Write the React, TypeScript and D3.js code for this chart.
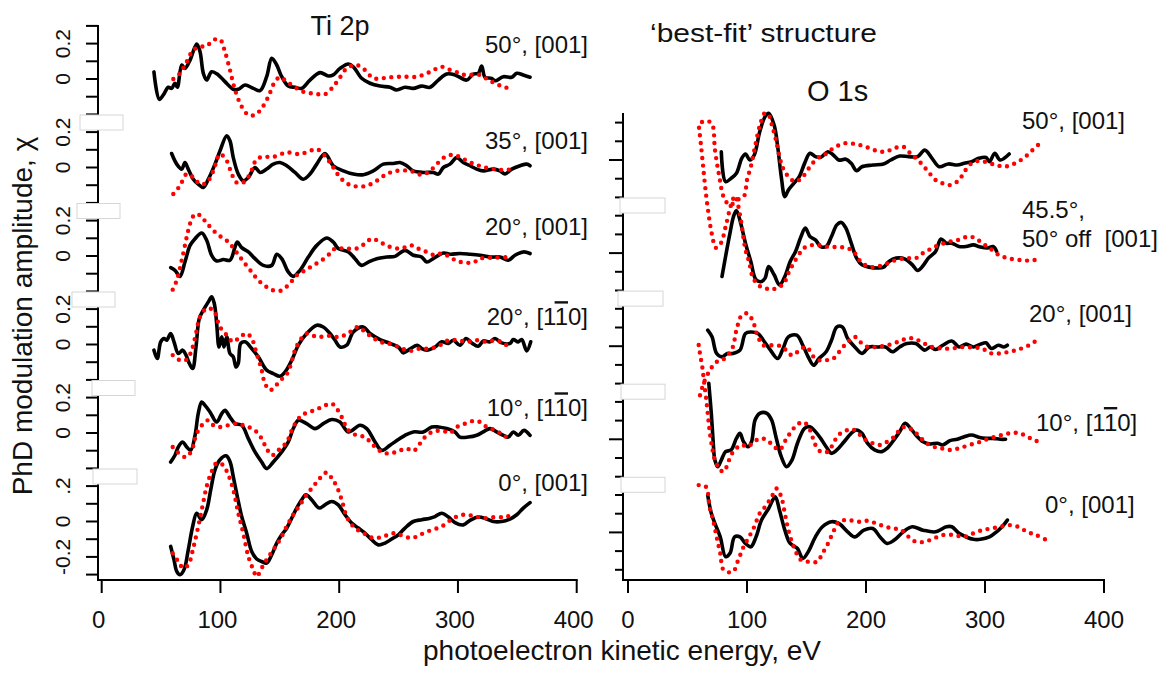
import React from 'react';
import * as d3 from 'd3';

type Pt = [number, number];

// ---------- Ti 2p (left) : experiment (black) and theory (red) ----------
const tiExp50: Pt[] = [[44,0.04],[48.5,-0.115],[51.9,-0.09],[56.1,-0.047],[58.9,-0.053],[61.7,-0.024],[63.7,-0.047],[67.4,0.079],[70.1,0.06],[74.4,0.107],[80,0.198],[82.8,0.154],[85.6,0.032],[88.4,-0.006],[92.6,0.041],[98.2,0.023],[103.8,-0.015],[110.8,-0.058],[115,-0.058],[120.7,-0.034],[127.7,-0.053],[133.3,-0.066],[138.9,0.013],[143.2,0.117],[147.4,0.079],[151.6,0.013],[157.1,-0.04],[162.8,-0.047],[168.4,-0.053],[175.4,-0.006],[183.8,0.036],[190.8,0.017],[195,0.023],[200.7,0.06],[207.7,0.085],[211.9,0.069],[218.9,0.004],[225.9,-0.024],[234.4,-0.04],[242.8,-0.047],[248.4,-0.062],[255.4,-0.047],[262.4,-0.053],[269.5,-0.04],[276.5,-0.047],[283.5,-0.006],[290.5,0.028],[297.5,0.023],[307.4,-0.006],[312.9,0.028],[317.1,0.032],[320,0.073],[322.8,0.01],[328.4,0.004],[331.2,-0.01],[338.2,0.013],[345.3,0.01],[349.5,0.032],[355,0.023],[360.7,0.01]];
const tiTh50: Pt[] = [[60.3,0],[65.9,0.032],[71.6,0.098],[77.1,0.164],[82.8,0.182],[88.4,0.186],[94,0.22],[99.6,0.224],[103.8,0.154],[108,0.051],[112.3,-0.062],[117.9,-0.156],[123.5,-0.203],[129.1,-0.203],[134.7,-0.166],[140.3,-0.1],[145.9,-0.015],[150.1,0.01],[155.8,-0.015],[162.8,-0.047],[169.8,-0.072],[176.8,-0.081],[182.4,-0.086],[188,-0.086],[193.7,-0.053],[199.2,-0.006],[206.3,0.06],[214.7,0.079],[221.7,0.051],[228.7,0.004],[235.8,0.004],[242.8,0.01],[254,0.013],[265.3,0.013],[273.7,0.032],[280.7,0.055],[286.3,0.069],[293.3,0.051],[300.3,0.036],[305.9,0.023],[318.6,0.023],[325.6,-0.006],[331.2,-0.024],[338.2,-0.044],[343.8,-0.053]];

const tiExp35: Pt[] = [[58.9,0.079],[63.2,0.019],[67.4,-0.009],[70.1,0.028],[72.9,-0.009],[77.1,-0.066],[81.3,-0.094],[85.6,-0.113],[89.8,-0.066],[95.4,0.019],[99.6,0.094],[105.3,0.179],[108,0.151],[110.8,0.056],[115,-0.037],[119.2,-0.075],[123.5,-0.056],[129.1,0],[133.3,-0.028],[138.9,-0.009],[144.5,0.019],[150.1,0.028],[155.8,0.01],[162.8,-0.028],[169.8,-0.066],[175.4,-0.037],[181.1,0.019],[188,0.079],[195,0.01],[203.5,-0.019],[211.9,-0.037],[220.3,-0.041],[228.7,-0.019],[237.1,0.019],[245.6,0.023],[251.2,0.028],[256.8,0.01],[262.4,-0.019],[270.8,-0.028],[279.2,-0.028],[283.5,-0.037],[287.7,0],[293.3,0.019],[299,0.056],[304.5,0.028],[310.1,0.01],[315.8,-0.009],[321.3,-0.019],[329.8,-0.009],[335.4,-0.019],[339.6,-0.037],[345.3,-0.009],[352.3,0.01],[357.9,0.019],[360.7,0.01]];
const tiTh35: Pt[] = [[60.3,-0.15],[65.9,-0.103],[71.6,-0.037],[77.1,-0.056],[82.8,-0.094],[88.4,-0.085],[94,-0.019],[99.6,0.076],[105.3,0.038],[109.5,-0.037],[113.7,-0.085],[119.2,-0.085],[124.9,-0.037],[130.5,0.047],[136.1,0.06],[144.5,0.06],[155.8,0.085],[167,0.076],[175.4,0.094],[181.1,0.104],[188,0.066],[195,0],[200.7,-0.056],[207.7,-0.094],[214.7,-0.107],[223.2,-0.103],[231.6,-0.075],[240,-0.037],[248.4,-0.019],[259.6,-0.019],[269.5,-0.041],[276.5,-0.019],[282.1,0.019],[289.1,0.06],[296.1,0.072],[303.2,0.053],[308.7,0.034],[315.8,0.015],[322.8,0],[331.2,-0.009],[338.2,-0.015],[345.3,-0.009]];

const tiExp20a: Pt[] = [[58.1,-0.066],[61.7,-0.081],[65.9,-0.115],[70.1,-0.034],[74.4,0.06],[78.6,0.098],[84.2,0.13],[88.4,0.089],[92.6,0.004],[96.8,-0.028],[102.4,-0.02],[108,-0.024],[112.3,0.051],[114.2,0.079],[117.9,0.047],[123.5,0.023],[129.1,-0.015],[136.1,-0.053],[143.2,-0.053],[147.4,0.01],[151.6,-0.015],[157.1,-0.09],[161.3,-0.115],[167,-0.081],[174,-0.006],[181.1,0.06],[189.5,0.102],[195,0.079],[199.2,0.042],[207.7,0.023],[213.3,-0.015],[218.9,-0.053],[224.5,-0.034],[231.6,-0.015],[240,-0.006],[247,-0.002],[255.4,0.032],[262.4,0.004],[269.5,-0.006],[273.7,-0.034],[279.2,-0.015],[287.7,0.017],[293.3,0.01],[301.7,0.014],[310.1,0.01],[318.6,0.004],[327,-0.006],[335.4,-0.006],[342.4,-0.024],[348,0.004],[355,0.023],[360.7,0.014]];
const tiTh20a: Pt[] = [[59.8,-0.19],[63.2,-0.137],[67.4,-0.024],[71.6,0.107],[74.9,0.192],[78.6,0.236],[82.8,0.23],[88.4,0.186],[96.8,0.127],[106.6,0.079],[112.3,0.032],[116.5,-0.006],[120.7,-0.043],[126.3,-0.09],[131.9,-0.137],[138.9,-0.175],[144.5,-0.194],[151.6,-0.194],[158.6,-0.153],[164.2,-0.109],[171.2,-0.081],[178.2,-0.053],[185.3,-0.024],[192.3,0.014],[196.5,0.042],[204.9,0.042],[214.7,0.042],[221.7,0.07],[227.4,0.098],[234.4,0.079],[241.4,0.055],[251.2,0.042],[261.1,0.06],[266.6,0.042],[273.7,0.023],[280.7,0.004],[286.3,0.014],[293.3,-0.006],[299,-0.028],[305.9,-0.037],[312.9,-0.037],[318.6,-0.015],[331.2,-0.009],[343.8,-0.006]];

const tiExp20b: Pt[] = [[44,-0.032],[46.8,-0.079],[49.7,0.015],[52.5,0.034],[54.7,0.024],[58.1,0.062],[60.9,0.015],[64.5,-0.051],[68.2,-0.032],[71,-0.06],[73.8,-0.107],[76.6,-0.136],[79.4,-0.014],[82.2,0.147],[85.6,0.194],[89.8,0.241],[92.6,0.269],[94.8,0.232],[96.8,0.119],[98.8,-0.014],[101.1,0.043],[103,-0.014],[105.3,0.043],[108,-0.051],[110.8,-0.07],[113.1,-0.127],[115,-0.107],[117.1,0.006],[120.7,0.015],[126.3,-0.023],[131.9,-0.07],[138.9,-0.145],[144.5,-0.164],[150.1,-0.179],[154.4,-0.155],[160,-0.089],[165.6,-0.004],[172.6,0.062],[181.1,0.109],[186.6,0.099],[192.3,0.062],[196.5,0.024],[200.7,-0.014],[206.3,-0.004],[211.9,0.071],[220.3,0.099],[225.9,0.062],[234.4,0.028],[242.8,0.006],[249.8,-0.014],[254,-0.047],[258.2,-0.032],[265.8,-0.004],[269.5,-0.023],[273.7,-0.032],[280.7,-0.014],[286.3,0.015],[291.9,0.006],[296.1,0.024],[301.7,-0.004],[306.8,0.034],[311.6,0.009],[317.1,-0.01],[321.3,0.02],[327,0.015],[331.2,0.034],[336.8,0.009],[343.8,0.006],[346.6,0.028],[350.8,0.015],[353.7,0.028],[357.9,-0.036],[361.3,0.015]];
const tiTh20b: Pt[] = [[59.8,-0.06],[65.9,-0.089],[71.6,-0.085],[75.8,-0.032],[79.4,0.062],[82.8,0.156],[88.4,0.203],[94,0.194],[99.6,0.099],[105.3,0.053],[110.8,0.015],[116.5,0.043],[122.1,0.062],[126.3,0.034],[130.5,-0.051],[134.7,-0.145],[137.5,-0.22],[141.7,-0.258],[145.9,-0.24],[150.1,-0.202],[154.4,-0.183],[158.6,-0.127],[162.8,-0.032],[167,0.024],[172.6,0.062],[181.1,0.043],[190.8,0.049],[200.7,0.043],[209.1,0.071],[216.1,0.099],[221.7,0.071],[227.4,0.043],[234.4,0.015],[241.4,0.006],[248.4,-0.01],[259.6,-0.036],[268,-0.023],[276.5,-0.023],[284.9,-0.004],[291.9,0.024],[300.3,0.024],[307.4,0.015],[315.8,0.024],[324.2,0.015],[332.6,0.024],[338.2,0.006],[343.8,-0.014]];

const tiExp10: Pt[] = [[58.1,-0.164],[61.7,-0.126],[64.5,-0.079],[68.2,-0.051],[71.6,-0.079],[74.9,-0.098],[78.6,-0.013],[81.3,0.11],[84.2,0.175],[87,0.156],[91.2,0.119],[96.8,0.062],[101.1,0.11],[103.8,0.128],[108,0.09],[112.3,0.053],[117.9,0.044],[123.5,-0.032],[129.1,-0.107],[134.7,-0.164],[138.9,-0.201],[144.5,-0.164],[151.6,-0.107],[157.1,-0.051],[161.3,0.025],[165.6,0.072],[172.6,0.053],[179.6,0.025],[186.6,0.053],[193.7,0.076],[200.7,0.062],[207.7,0.006],[217.5,0.044],[223.2,0.025],[230.2,-0.051],[235.8,-0.098],[242.8,-0.069],[249.8,-0.037],[255.4,-0.013],[262.4,0.006],[270.8,0.006],[277.9,0.034],[283.5,0.034],[290.5,0.025],[297.5,0.006],[301.7,-0.023],[308.7,-0.023],[315.8,-0.013],[321.3,0.006],[327,0.025],[332.6,0.006],[338.2,-0.013],[342.4,-0.023],[346.6,0.006],[350.8,-0.013],[355.6,0.015],[360.7,-0.013]];
const tiTh10: Pt[] = [[59.8,-0.079],[65.9,-0.12],[71,-0.136],[75.8,-0.098],[80,-0.003],[85.6,0.053],[89.8,0.072],[94,0.044],[99.6,0.034],[106.6,0.044],[112.3,0.053],[119.2,0.044],[126.3,0.025],[131.9,-0.003],[136.1,-0.051],[138.9,-0.088],[143.2,-0.126],[148.7,-0.098],[155.8,-0.051],[161.3,0.034],[168.4,0.1],[175.4,0.119],[182.4,0.138],[188,0.156],[193.7,0.166],[197.9,0.138],[202.1,0.09],[207.7,0.015],[214.7,-0.013],[221.7,-0.023],[228.7,-0.069],[235.8,-0.107],[242.8,-0.116],[249.8,-0.102],[256.8,-0.088],[262.4,-0.102],[268,-0.06],[273.7,-0.013],[280.7,0.011],[287.7,0.011],[293.3,0],[299,0.034],[305.9,0.053],[312.9,0.068],[318.6,0.062],[324.2,0.034],[329.8,0.019],[335.4,0],[339.6,-0.019],[343.8,-0.023]];

const tiExp0: Pt[] = [[58.1,-0.141],[60.9,-0.216],[63.2,-0.282],[65.9,-0.301],[69.3,-0.273],[72.9,-0.16],[76.6,-0.028],[80,0.047],[84.2,0.01],[88.4,0.066],[91.8,0.179],[95.4,0.292],[99.6,0.349],[104.7,0.371],[108,0.339],[110.8,0.254],[114.2,0.141],[117.9,0.028],[122.1,-0.066],[126.3,-0.169],[130.5,-0.212],[134.7,-0.226],[138.9,-0.235],[143.2,-0.188],[147.4,-0.122],[151.6,-0.075],[155.8,-0.038],[160,0.019],[164.2,0.076],[168.4,0.123],[172,0.151],[176.8,0.123],[183.2,0.076],[188,0.094],[193.7,0.113],[199.2,0.094],[204.9,0.038],[210.5,-0.009],[216.1,-0.037],[221.7,-0.066],[227.4,-0.103],[232.9,-0.132],[238.6,-0.122],[244.2,-0.099],[249.8,-0.075],[255.4,-0.037],[262.4,0],[269.5,0.01],[276.5,0.019],[280.7,0.028],[286.3,0.047],[292,0.025],[297.5,-0.006],[304.5,-0.019],[310.1,0.006],[317.1,0.025],[324.2,0.014],[329.8,0],[336.8,0],[343.8,0.014],[349.5,0.038],[355,0.076],[360.7,0.107]];
const tiTh0: Pt[] = [[59.8,-0.179],[64.5,-0.226],[68.7,-0.263],[72.9,-0.245],[77.1,-0.15],[81.3,-0.028],[85.1,0.094],[88.4,0.198],[92.6,0.282],[96.8,0.33],[101.9,0.32],[106.6,0.264],[110.8,0.179],[115,0.047],[119.2,-0.066],[123.5,-0.198],[127.7,-0.273],[130.5,-0.311],[134.7,-0.263],[138.9,-0.216],[144.5,-0.16],[150.1,-0.103],[155.8,-0.028],[161.3,0.038],[167,0.094],[172.6,0.151],[178.2,0.198],[183.8,0.245],[189.5,0.277],[193.7,0.245],[197.9,0.198],[202.1,0.123],[206.3,0.028],[211.9,-0.028],[217.5,-0.056],[223.2,-0.075],[228.7,-0.094],[237.1,-0.085],[245.6,-0.066],[251.2,-0.075],[261.1,-0.094],[268,-0.075],[276.5,-0.051],[286.3,-0.028],[296.1,0.019],[304.5,0.038],[312.9,0.032],[321.3,0.019],[331.2,0.025],[339.6,0.025],[345.3,0.038]];

// ---------- O 1s (right) ----------
const oExp50: Pt[] = [[78.4,0.044],[82,-0.116],[86.6,-0.098],[91.1,-0.071],[95.6,0.009],[98.7,0.032],[102.5,0],[106.1,0.027],[110.7,0.151],[115.2,0.232],[118.2,0.25],[122.8,0.187],[125.8,0.071],[128.8,-0.089],[131.8,-0.196],[134.8,-0.16],[139.3,-0.125],[143.9,-0.089],[148.4,-0.018],[152.9,0.036],[157.5,0.018],[161.9,0.014],[168,0.044],[172.5,0.027],[177.1,0],[183.1,0.004],[187.6,-0.018],[192.1,-0.057],[196.6,-0.036],[205.7,-0.027],[214.8,-0.021],[220.8,0],[228.3,0.021],[235.9,0.018],[243.4,0.018],[249.4,0.053],[255.5,0.009],[261.5,-0.036],[269.1,-0.021],[276.6,-0.027],[282.6,-0.018],[288.7,-0.009],[294.7,0.009],[300.8,0.014],[303.8,-0.009],[308.2,0.036],[312.8,0],[320.3,0.032]];
const oTh50: Pt[] = [[62.2,0.203],[66.4,0.209],[70.6,0.193],[73.1,0.053],[76.5,-0.08],[80.7,-0.203],[85.7,-0.241],[91.6,-0.214],[97.5,-0.193],[100,-0.107],[103.2,-0.036],[106.7,0.07],[110.9,0.187],[115.1,0.251],[118.2,0.241],[121.3,0.178],[124.3,0.107],[127.3,0.018],[130.3,-0.044],[134.8,-0.089],[140.8,-0.116],[146.9,-0.089],[152.9,-0.036],[159,0.009],[165,0.027],[172.5,0.063],[181.6,0.089],[190.6,0.086],[199.7,0.071],[208.7,0.05],[216.3,0.044],[223.8,0.063],[231.3,0.071],[235.9,0.044],[240.4,0.018],[246.4,-0.018],[252.4,-0.063],[258.5,-0.107],[264.5,-0.125],[270.6,-0.134],[278.2,-0.107],[282.6,-0.063],[288.7,-0.018],[296.2,-0.004],[303.8,-0.018],[309.7,-0.027],[315.8,-0.036],[321.8,-0.027],[327.9,-0.009],[334,0.018],[339.9,0.053],[346,0.089]];

const oExp45: Pt[] = [[79,-0.125],[82,-0.018],[85.7,0.107],[88.7,0.196],[91.1,0.228],[94.7,0.16],[98.7,0.053],[103.2,-0.045],[107.6,-0.143],[112.2,-0.152],[115.2,-0.134],[118.2,-0.072],[122.8,-0.116],[127.3,-0.17],[131.8,-0.125],[136.3,-0.045],[140.8,0.009],[145.4,0.089],[149,0.134],[152.9,0.089],[157.5,0.071],[161.9,0.035],[166.5,0.035],[171,0.089],[175.5,0.151],[179.2,0.164],[183.1,0.134],[187.6,0.053],[192.1,-0.027],[196.6,-0.063],[202.7,-0.075],[210.3,-0.08],[214.8,-0.075],[219.3,-0.045],[225.3,-0.027],[232.9,-0.032],[239,-0.063],[243.4,-0.093],[247.9,-0.068],[252.4,-0.027],[258.5,0.009],[263,0.075],[267.6,0.053],[272.1,0.053],[278.1,0.035],[284.1,0.035],[290.2,0.044],[296.2,0.032],[302.3,0.027],[306.8,0.035],[309.8,0.009]];
const oTh45: Pt[] = [[59.7,0.67],[61.3,0.579],[63,0.472],[64.7,0.365],[67.2,0.232],[70.6,0.098],[73.9,0.028],[78.2,0.055],[82.4,0.151],[86.6,0.258],[90,0.306],[94.1,0.205],[98.7,0.018],[101.7,-0.045],[104.6,-0.125],[109.2,-0.17],[115.1,-0.187],[121.3,-0.196],[125.8,-0.179],[130.3,-0.17],[134.8,-0.107],[139.3,-0.053],[145.4,0.009],[149.9,0.035],[157.5,0.044],[166.5,0.035],[175.5,0.032],[184.6,0.027],[190.6,0],[196.6,-0.053],[205.7,-0.075],[214.8,-0.063],[223.8,-0.04],[232.9,-0.027],[241.9,-0.027],[247.9,0],[254,0.021],[261.5,0.044],[270.6,0.062],[278.2,0.071],[285.7,0.089],[291.7,0.08],[297.7,0.053],[303.8,0.027],[311.3,-0.009],[318.8,-0.027],[327.9,-0.036],[336.9,-0.04],[346,-0.032]];

const oExp20: Pt[] = [[67,0.086],[70.6,0.05],[74.5,-0.039],[79,-0.057],[83.5,-0.039],[88.1,-0.039],[94.1,-0.021],[98.7,0.068],[103.2,0.076],[109.2,0.068],[113.7,0.032],[119.7,-0.021],[125.8,-0.066],[130.3,-0.012],[134.8,0.05],[141.8,0.059],[146.9,0.005],[151.4,-0.057],[156,-0.102],[160.5,-0.066],[166.5,-0.03],[171,0.032],[175.5,0.103],[180.1,0.103],[184.6,0.041],[190.6,-0.004],[196.6,-0.039],[202.7,-0.004],[210.3,-0.004],[216.3,-0.004],[222.3,-0.03],[228.3,-0.004],[234.3,0.014],[241.9,0.014],[249.4,-0.021],[254,-0.004],[258.5,-0.018],[264.5,0.005],[272.1,0.028],[278.2,-0.004],[284.1,0.011],[290.2,-0.004],[296.2,0.011],[300.8,0.018],[305.2,-0.012],[311.3,0.005],[315.8,-0.004],[318.8,0.005]];
const oTh20: Pt[] = [[60.5,-0.262],[63.9,-0.193],[68.9,-0.128],[73.9,-0.086],[79,-0.075],[83.2,-0.053],[88.1,-0.004],[91.1,0.086],[95.6,0.166],[100.2,0.175],[104.6,0.139],[109.2,0.05],[113.7,0.005],[118.2,0.005],[124.3,0.005],[130.3,-0.004],[134.8,-0.039],[139.3,-0.048],[143.9,-0.021],[149.9,-0.004],[156,-0.057],[160.5,-0.075],[166.5,-0.075],[172.5,-0.066],[178.6,-0.021],[184.6,0.023],[190.6,0.05],[195.1,0.023],[201.2,-0.004],[208.7,-0.004],[217.8,0.005],[226.8,0.023],[234.3,0.041],[240.4,0.041],[247.9,0.018],[255.5,-0.004],[263,-0.012],[272.1,-0.012],[281.1,-0.004],[290.2,-0.007],[297.7,-0.012],[303.8,-0.036],[311.3,-0.039],[320.3,-0.03],[327.9,-0.018],[336.9,0.005],[344.5,0.036]];

const oExp10: Pt[] = [[67.9,0.299],[70,0.139],[71.5,-0.004],[73,-0.111],[75.4,-0.147],[78.4,-0.111],[82,-0.066],[86.6,-0.057],[91.1,0.005],[94.1,0.032],[97.1,-0.013],[100.8,-0.04],[103.8,-0.013],[106.8,0.103],[110.7,0.139],[116.7,0.139],[120.7,0.103],[124.3,0.014],[128.8,-0.093],[133.3,-0.147],[137.8,-0.111],[142.4,-0.021],[148.4,0.059],[152.9,0.067],[157.5,0.041],[161.9,0.005],[166.5,-0.04],[171,-0.075],[175.5,-0.057],[181.6,-0.013],[187.6,0.032],[192.1,0.05],[196.6,0.032],[201.2,-0.021],[207.2,-0.057],[213.3,-0.066],[217.8,-0.048],[222.3,-0.013],[228.3,0.041],[232.9,0.086],[237.4,0.059],[241.9,0.023],[247.9,-0.013],[254,-0.025],[260,-0.021],[264.5,-0.03],[270.6,-0.007],[276.7,0],[282.6,0.014],[288.7,0.023],[294.7,0.011],[300.8,0.005],[306.7,0.005],[312.8,0],[317.3,0]];
const oTh10: Pt[] = [[59.4,0.504],[60.9,0.442],[62.4,0.388],[63.9,0.308],[65.5,0.228],[67,0.139],[68.5,0.05],[70.6,-0.04],[73,-0.111],[77.5,-0.164],[80.5,-0.173],[83.5,-0.137],[86.6,-0.084],[91.1,-0.048],[95.6,-0.03],[100.2,-0.04],[106.1,-0.013],[110.7,0.005],[116.7,-0.004],[122.8,-0.04],[127.3,-0.057],[133.3,0.005],[139.3,0.059],[143.9,0.086],[148.4,0.089],[152.9,0.05],[157.5,-0.03],[161.9,-0.066],[168,-0.066],[174,-0.004],[178.6,0.032],[184.6,0.05],[189.1,0.053],[193.6,0.032],[199.7,-0.004],[205.7,-0.021],[211.8,-0.03],[217.8,-0.013],[223.8,0.014],[228.3,0.05],[232.9,0.067],[238.9,0.05],[245,0.014],[250.9,-0.021],[257,-0.04],[263,-0.048],[270.6,-0.057],[278.1,-0.048],[287.1,-0.03],[296.2,-0.013],[303.8,0.005],[311.3,0.018],[317.3,0.028],[323.4,0.035],[329.4,0.032],[335.4,0.014],[341.4,-0.004],[349,-0.021]];

const oExp0: Pt[] = [[67,0.199],[70,0.102],[73,0.048],[77.5,-0.024],[82,-0.13],[85.7,-0.112],[89.6,-0.024],[94.1,-0.024],[98.7,-0.059],[103.2,-0.077],[107.6,-0.024],[112.2,0.066],[118.2,0.128],[123.7,0.19],[127.3,0.119],[131.8,0.012],[136.3,-0.059],[142.4,-0.086],[146.9,-0.139],[151.4,-0.104],[157.5,-0.024],[163.4,0.03],[171,0.057],[177.1,0.048],[184.6,0.003],[190.6,-0.024],[198.2,0.012],[205.7,0.021],[211.8,-0.024],[217.8,-0.059],[223.8,-0.041],[231.3,0.003],[238.9,0.03],[247.9,0.012],[258.5,0.003],[267.6,0.03],[272.1,0.03],[278.2,-0.005],[284.1,-0.024],[290.2,-0.037],[296.2,-0.037],[303.8,-0.024],[309.7,0.003],[314.3,0.03],[318.8,0.066]];
const oTh0: Pt[] = [[59.4,0.253],[65.5,0.244],[68.5,0.137],[71.5,0.066],[74.5,-0.024],[77.5,-0.112],[80.5,-0.202],[88.1,-0.211],[92.6,-0.148],[97.1,-0.077],[101.7,-0.024],[106.1,0.03],[110.7,0.102],[115.2,0.137],[120.7,0.19],[124.9,0.235],[128.8,0.19],[131.8,0.102],[134.8,0.012],[139.3,-0.077],[145.4,-0.148],[152.9,-0.157],[159,-0.157],[163.4,-0.112],[168.1,-0.059],[172.5,0.003],[177.1,0.057],[184.6,0.066],[193.6,0.057],[201.2,0.062],[208.7,0.048],[216.3,0.03],[223.8,0.021],[229.8,0.012],[235.9,-0.024],[241.9,-0.05],[249.4,-0.05],[257,-0.032],[264.5,-0.014],[273.5,-0.014],[282.6,-0.024],[290.2,-0.005],[297.7,0.012],[305.2,0.021],[312.8,0.03],[320.3,0.039],[327.9,0.03],[335.4,0.003],[342.9,-0.014],[350.4,-0.037]];

// ---------- labels / ticks ----------
type Lab = { pre: string; over?: string; post?: string };
const tiLabels: Lab[] = [
  { pre: '50°, [001]' }, { pre: '35°, [001]' }, { pre: '20°, [001]' },
  { pre: '20°, [1', over: '1', post: '0]' }, { pre: '10°, [1', over: '1', post: '0]' }, { pre: '0°, [001]' },
];
const oLabels: Lab[][] = [
  [{ pre: '50°, [001]' }],
  [{ pre: '45.5°,' }, { pre: '50° off  [001]' }],
  [{ pre: '20°, [001]' }],
  [{ pre: '10°, [1', over: '1', post: '0]' }],
  [{ pre: '0°, [001]' }],
];
const tiSeries = [
  [tiExp50, tiTh50], [tiExp35, tiTh35], [tiExp20a, tiTh20a],
  [tiExp20b, tiTh20b], [tiExp10, tiTh10], [tiExp0, tiTh0],
];
const oSeries = [[oExp50, oTh50], [oExp45, oTh45], [oExp20, oTh20], [oExp10, oTh10], [oExp0, oTh0]];
const tiTickVals: number[][] = [
  [0.3, 0.2, 0.1, 0, -0.1, -0.2], [0.2, 0.1, 0, -0.1, -0.2], [0.2, 0.1, 0, -0.1, -0.2],
  [0.2, 0.1, 0, -0.1, -0.2], [0.2, 0.1, 0, -0.1, -0.2], [0.2, 0.1, 0, -0.1, -0.2, -0.3],
];
const tiTickLabels: [number, string][][] = [
  [[0.2, '0.2'], [0, '0']], [[0.2, '0.2'], [0, '0']], [[0.2, '0.2'], [0, '0']],
  [[0.2, '0.2'], [0, '0']], [[0.2, '0.2'], [0, '0']], [[0.2, '.2'], [0, '0'], [-0.2, '-0.2']],
];
const oTickVals = [0.2, 0.1, 0, -0.1, -0.2];
const xTicks = [0, 100, 200, 300, 400];

// ---------- layout ----------
const FONT = "'Liberation Sans', Arial, Helvetica, sans-serif";
const L_ZERO0 = 79, L_STEP = 88.5, L_UNIT = 177;
const R_ZERO0 = 160, R_STEP = 93.1, R_UNIT = 187;
const AXIS_Y = 580;
const L_AXIS_X = 98, R_AXIS_X = 623;
const tiLabelDy = [-26, -18.7, -20.7, -19.3, -16.7, -30.7];
const oLabelPos: [number, number][][] = [
  [[1022, 129]], [[1022, 218], [1022, 247]], [[1029, 322]], [[1036, 431]], [[1045, 513]],
];
const leftGaps: [number, number][] = [[80, 123], [77, 120], [72, 115], [92, 135], [93, 137]];
const rightGaps: [number, number][] = [[620, 665], [618, 663], [621, 665], [621, 665]];

function LabelText({ lab, x, y, anchor }: { lab: Lab; x: number; y: number; anchor: 'start' | 'end' }) {
  return (
    <text x={x} y={y} textAnchor={anchor} fontFamily={FONT} fontSize={24} fill="#111" style={{ whiteSpace: 'pre' }}>
      {lab.pre}
      {lab.over ? <tspan style={{ textDecoration: 'overline' }}>{lab.over}</tspan> : null}
      {lab.post ?? null}
    </text>
  );
}

export default function App() {
  const xL = d3.scaleLinear().domain([0, 400]).range([101.7, 576.7]);
  const xR = d3.scaleLinear().domain([0, 400]).range([628, 1104]);
  const yL = (i: number) => { const z = L_ZERO0 + i * L_STEP; return d3.scaleLinear().domain([-1, 1]).range([z + L_UNIT, z - L_UNIT]); };
  const yR = (j: number) => { const z = R_ZERO0 + j * R_STEP; return d3.scaleLinear().domain([-1, 1]).range([z + R_UNIT, z - R_UNIT]); };
  const mk = (x: d3.ScaleLinear<number, number>, y: d3.ScaleLinear<number, number>) =>
    d3.line<Pt>().x(d => x(d[0])).y(d => y(d[1])).curve(d3.curveCatmullRom.alpha(0.5));

  const blackStyle = { fill: 'none', stroke: '#000', strokeWidth: 3.6, strokeLinejoin: 'round' as const, strokeLinecap: 'round' as const };
  const redStyle = { fill: 'none', stroke: '#ff0000', strokeWidth: 4.4, strokeDasharray: '0 7.6', strokeLinecap: 'round' as const };

  return (
    <svg width={1160} height={675} style={{ position: 'absolute', left: 0, top: 0, background: '#fff' }}>
      <rect x={0} y={0} width={1160} height={675} fill="#fff" />
      {/* left axes */}
      <line x1={L_AXIS_X} x2={L_AXIS_X} y1={25} y2={AXIS_Y} stroke="#000" strokeWidth={2} />
      <line x1={L_AXIS_X - 1} x2={xL(400) + 1} y1={AXIS_Y} y2={AXIS_Y} stroke="#000" strokeWidth={2} />
      {xTicks.map(t => (
        <g key={'lx' + t}>
          <line x1={xL(t)} x2={xL(t)} y1={AXIS_Y} y2={AXIS_Y + 13} stroke="#000" strokeWidth={2} />
          <text x={xL(t) - 3} y={628} textAnchor="middle" fontFamily={FONT} fontSize={24} fill="#111">{t}</text>
        </g>
      ))}
      {tiTickVals.map((vals, i) => vals.map(v => (
        <line key={`lt${i}_${v}`} x1={L_AXIS_X - 12} x2={L_AXIS_X} y1={yL(i)(v)} y2={yL(i)(v)} stroke="#000" strokeWidth={2} />
      )))}
      {tiTickLabels.map((labs, i) => labs.map(([v, s]) => (
        <text key={`ll${i}_${v}`} transform={`translate(70,${yL(i)(v)}) rotate(-90)`} textAnchor="middle" fontFamily={FONT} fontSize={21} fill="#111">{s}</text>
      )))}
      {leftGaps.map(([a, b], i) => {
        const z = L_ZERO0 + i * L_STEP;
        return <rect key={'lg' + i} x={a} y={z + 36} width={b - a} height={15} fill="#fff" stroke="#d6d6d6" strokeWidth={1} />;
      })}

      {/* right axes */}
      <line x1={R_AXIS_X} x2={R_AXIS_X} y1={113} y2={AXIS_Y} stroke="#000" strokeWidth={2} />
      <line x1={R_AXIS_X - 1} x2={xR(400) + 1} y1={AXIS_Y} y2={AXIS_Y} stroke="#000" strokeWidth={2} />
      {xTicks.map(t => (
        <g key={'rx' + t}>
          <line x1={xR(t)} x2={xR(t)} y1={AXIS_Y} y2={AXIS_Y + 13} stroke="#000" strokeWidth={2} />
          <text x={xR(t)} y={628} textAnchor="middle" fontFamily={FONT} fontSize={24} fill="#111">{t}</text>
        </g>
      ))}
      {oSeries.map((_, j) => oTickVals.map(v => (
        <line key={`rt${j}_${v}`} x1={R_AXIS_X - (v === 0 ? 14 : 8)} x2={R_AXIS_X} y1={yR(j)(v)} y2={yR(j)(v)} stroke="#000" strokeWidth={2} />
      )))}
      {rightGaps.map(([a, b], j) => {
        const z = R_ZERO0 + j * R_STEP;
        return <rect key={'rg' + j} x={a} y={z + 38} width={b - a} height={15} fill="#fff" stroke="#d6d6d6" strokeWidth={1} />;
      })}

      {/* curves */}
      {tiSeries.map(([exp, th], i) => {
        const line = mk(xL, yL(i));
        return (
          <g key={'ti' + i}>
            <path d={line(exp) ?? ''} style={blackStyle} />
            <path d={line(th) ?? ''} style={redStyle} />
          </g>
        );
      })}
      {oSeries.map(([exp, th], j) => {
        const line = mk(xR, yR(j));
        return (
          <g key={'o' + j}>
            <path d={line(exp) ?? ''} style={blackStyle} />
            <path d={line(th) ?? ''} style={redStyle} />
          </g>
        );
      })}

      {/* panel labels */}
      {tiLabels.map((lab, i) => (
        <LabelText key={'tl' + i} lab={lab} x={588} y={L_ZERO0 + i * L_STEP + tiLabelDy[i]} anchor="end" />
      ))}
      {oLabels.map((labs, j) => labs.map((lab, k) => (
        <LabelText key={`ol${j}_${k}`} lab={lab} x={oLabelPos[j][k][0]} y={oLabelPos[j][k][1]} anchor="start" />
      )))}

      {/* titles */}
      <text x={340} y={35} textAnchor="middle" fontFamily={FONT} fontSize={27} fill="#111">Ti 2p</text>
      <text x={650} y={42} fontFamily={FONT} fontSize={26} fill="#111" textLength={227} lengthAdjust="spacingAndGlyphs">‘best-fit’ structure</text>
      <text x={807} y={101} fontFamily={FONT} fontSize={29} fill="#111">O 1s</text>
      <text x={622} y={660} textAnchor="middle" fontFamily={FONT} fontSize={28} fill="#111">photoelectron kinetic energy, eV</text>
      <text transform="translate(32,316) rotate(-90)" textAnchor="middle" fontFamily={FONT} fontSize={28} fill="#111">PhD modulation amplitude, χ</text>
    </svg>
  );
}
